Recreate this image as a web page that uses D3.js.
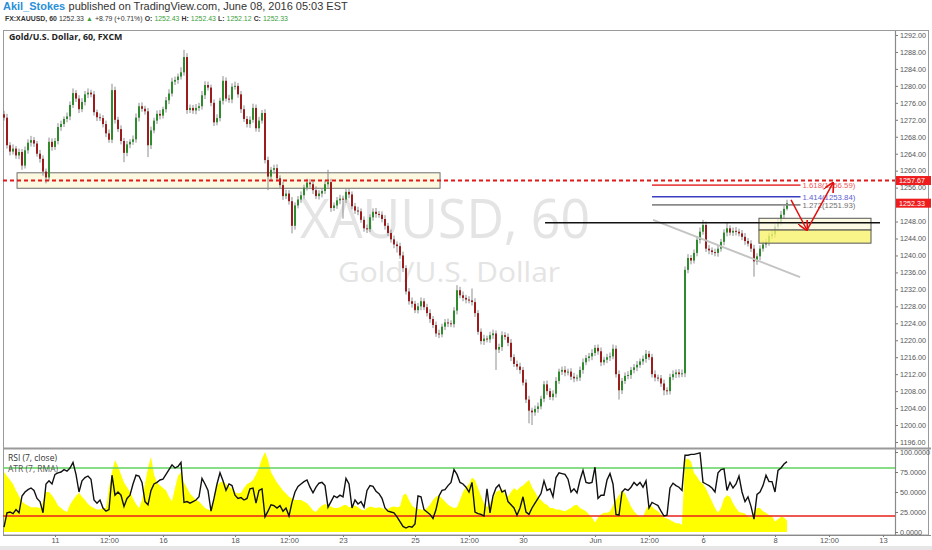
<!DOCTYPE html>
<html><head><meta charset="utf-8">
<script src="https://cdn.jsdelivr.net/npm/d3@7"></script>
<style>body{margin:0;background:#fff;}svg{display:block;}</style>
</head><body><svg id="c" width="932" height="550"></svg>
<script>
// ---------- DATA ----------
const firstOpen = 1273.3;
const firstBarHour = 14;      // trading hours since May 9 00:00 (weekends removed)
const barStepHours = 2;
const closes = [
1272.5,1266.0,1264.5,1265.2,1263.6,1264.4,1261.2,1264.8,1266.6,1267.2,
1266.4,1264.0,1262.8,1259.8,1258.4,1266.8,1265.6,1267.0,1270.3,1271.0,
1272.2,1272.8,1275.5,1278.3,1277.0,1274.5,1276.2,1278.0,1278.4,1278.0,
1273.8,1272.6,1272.4,1271.0,1268.8,1267.3,1279.0,1272.0,1269.8,1267.0,
1264.2,1266.2,1266.8,1267.4,1272.5,1275.2,1274.6,1274.0,1266.0,1269.5,
1271.8,1273.4,1273.0,1274.5,1276.6,1278.2,1281.0,1281.4,1282.2,1283.2,
1286.8,1274.3,1274.8,1274.2,1274.8,1275.2,1277.8,1280.2,1279.6,1276.0,
1271.4,1272.4,1276.5,1281.2,1277.0,1276.8,1279.8,1280.0,1278.0,1274.5,
1272.2,1271.0,1272.0,1274.8,1270.0,1271.8,1273.6,1262.5,1258.6,1260.2,
1260.6,1258.2,1256.6,1254.0,1254.6,1252.8,1247.0,1251.8,1253.2,1254.2,
1256.0,1257.2,1256.8,1255.4,1254.0,1254.6,1255.2,1256.8,1257.3,1251.2,
1251.8,1253.0,1253.4,1253.2,1255.0,1254.4,1251.6,1250.6,1250.4,1248.4,
1246.4,1246.2,1249.0,1250.3,1249.8,1249.6,1248.6,1247.0,1245.3,1243.8,
1242.6,1242.2,1240.0,1237.0,1231.5,1229.2,1228.6,1227.1,1228.0,1229.2,
1227.8,1226.4,1225.0,1223.6,1221.6,1221.4,1223.2,1224.2,1224.0,1223.8,
1227.0,1231.8,1230.6,1230.0,1229.6,1229.4,1229.0,1226.4,1222.0,1219.8,
1220.4,1220.2,1221.2,1221.6,1217.8,1218.4,1221.2,1220.8,1219.4,1216.0,
1214.4,1213.8,1213.0,1210.0,1206.0,1203.4,1203.0,1203.8,1204.4,1206.2,
1209.6,1208.0,1206.6,1207.4,1210.4,1212.6,1213.0,1212.4,1212.6,1211.4,
1211.0,1211.2,1213.0,1214.8,1215.8,1216.2,1217.0,1218.2,1217.4,1214.8,
1215.4,1216.0,1216.2,1218.0,1212.0,1208.2,1210.4,1211.6,1211.8,1213.0,
1213.6,1214.2,1215.0,1215.6,1216.8,1216.0,1212.0,1211.2,1211.0,1209.8,
1208.2,1208.0,1211.3,1212.0,1212.4,1212.0,1212.2,1236.6,1239.4,1238.8,
1240.6,1243.7,1245.6,1247.2,1241.6,1241.2,1240.8,1240.6,1241.6,1243.2,
1245.4,1246.4,1245.4,1245.8,1245.6,1245.2,1244.4,1243.4,1242.8,1241.6,
1238.6,1239.8,1241.6,1242.6,1243.2,1244.6,1245.0,1246.8,1247.8,1249.6,
1251.0,1252.33];
const wickUp = [
0.8,0.9,0.7,1.0,0.6,0.8,0.7,0.9,0.8,1.0, 0.7,0.6,0.9,0.8,0.7,1.0,0.8,0.7,0.9,0.8,
0.6,0.9,0.8,1.1,0.7,0.8,0.9,0.8,1.0,0.7, 0.8,0.6,0.9,0.7,0.8,0.9,1.5,0.8,0.7,0.9,
0.7,0.8,0.6,0.9,1.0,0.8,0.9,0.7,0.8,0.9, 0.7,0.8,0.9,0.6,0.8,1.0,0.9,0.8,0.7,1.2,
1.7,0.9,0.8,0.7,0.9,0.8,1.0,0.9,0.8,0.7, 0.8,0.9,0.7,1.1,0.8,0.9,0.8,1.0,0.7,0.8,
0.9,0.7,0.8,1.0,0.8,0.9,0.7,0.9,0.8,0.7, 0.8,0.9,0.7,0.8,0.9,0.8,1.0,0.7,0.8,0.9,
0.7,0.9,0.8,0.7,0.9,0.8,0.7,0.9,2.9,0.8, 0.7,0.8,0.9,0.7,0.8,0.9,0.7,0.8,0.9,0.7,
0.8,0.9,0.7,0.8,0.9,0.7,0.8,0.9,0.7,0.8, 0.9,0.7,0.8,0.9,0.7,0.8,0.9,0.7,0.8,0.9,
0.7,0.8,0.9,0.7,0.8,0.9,0.7,0.8,0.9,0.7, 0.8,1.2,0.8,0.9,0.7,0.8,2.8,0.9,0.7,0.8,
0.9,0.7,0.8,0.9,0.7,0.8,0.9,0.7,0.8,0.9, 0.7,0.8,0.9,0.7,0.8,0.9,0.7,0.8,0.9,0.7,
0.8,0.9,0.7,0.8,0.9,0.7,0.8,0.9,0.7,0.8, 0.9,0.7,0.8,0.9,0.7,0.8,0.9,0.7,0.8,0.9,
0.7,0.8,0.9,1.0,0.8,0.9,0.7,0.8,0.9,0.7, 0.8,0.9,0.7,0.8,0.9,0.7,0.8,0.9,0.7,0.8,
0.9,0.7,0.8,0.9,0.7,0.8,0.9,0.8,0.9,0.7, 0.8,0.9,1.0,1.2,0.8,0.9,0.7,0.8,0.9,0.7,
0.8,1.3,0.7,0.8,0.9,0.7,0.8,0.9,0.7,0.8, 0.9,0.7,0.8,0.9,0.7,0.8,0.9,0.7,0.8,0.9,
0.7,0.8];
const wickDn = [
0.7,0.8,0.9,0.7,0.8,0.9,1.0,0.7,0.8,0.9, 0.8,0.7,0.9,1.0,1.4,0.8,0.9,0.7,0.8,0.9,
0.7,0.8,0.9,0.7,0.8,0.9,0.7,0.8,0.9,0.7, 0.8,0.9,0.7,0.8,0.9,0.7,0.8,0.9,0.7,0.8,
2.2,0.8,0.9,0.7,0.8,0.9,0.7,0.8,2.8,0.9, 0.7,0.8,0.9,0.7,0.8,0.9,0.7,0.8,0.9,0.7,
0.8,0.9,0.7,0.8,0.9,0.7,0.8,0.9,0.7,0.8, 0.9,0.7,0.8,0.9,0.7,0.8,0.9,0.7,0.8,0.9,
0.7,0.8,0.9,0.7,0.8,0.9,0.7,0.8,3.2,0.8, 0.9,0.7,0.8,0.9,0.7,0.8,1.8,0.9,0.7,0.8,
0.9,0.7,0.8,0.9,0.7,0.8,0.9,0.7,0.8,0.9, 0.7,0.8,0.9,4.5,0.8,0.9,0.7,0.8,0.9,0.7,
0.8,0.9,0.7,0.8,0.9,0.7,0.8,0.9,0.7,0.8, 0.9,1.5,0.8,0.9,0.7,0.8,0.9,0.7,0.8,0.9,
0.7,0.8,0.9,0.7,0.8,0.9,0.7,0.8,0.9,0.7, 0.8,0.9,0.7,0.8,0.9,0.7,0.8,0.9,0.7,0.8,
0.9,0.7,0.8,0.9,4.8,0.8,0.9,0.7,0.8,0.9, 0.7,0.8,0.9,0.7,0.8,3.0,3.0,0.8,0.9,0.7,
0.8,0.9,0.7,0.8,0.9,0.7,0.8,0.9,0.7,0.8, 0.9,0.7,0.8,0.9,0.7,0.8,0.9,0.7,0.8,0.9,
0.7,0.8,0.9,0.7,0.8,2.2,0.9,0.7,0.8,0.9, 0.8,0.9,0.7,0.8,0.9,0.7,0.8,0.9,0.7,0.8,
1.2,0.9,0.8,0.7,0.9,0.8,0.7,0.9,0.8,0.9, 0.7,0.8,0.9,0.7,0.8,0.9,0.7,0.8,0.9,0.7,
0.8,0.9,0.7,0.8,0.9,0.7,0.8,0.9,0.7,0.8, 3.6,0.8,0.9,0.7,0.8,0.9,0.7,0.8,0.9,0.7,
0.8,0.4];
const rsi = [
6,24,25,23,28,24,45,50,53,55, 52,42,38,24,60,64,60,72,74,75,
78,76,80,87,72,50,64,68,70,66, 40,36,40,30,26,28,71,46,50,46,
32,42,46,60,71,70,62,38,34,52, 60,62,65,66,72,78,84,80,82,87,
37,38,36,38,40,44,67,60,52,26, 42,60,74,64,52,60,58,46,42,43,
40,42,54,55,36,52,54,19,26,34, 33,30,33,26,30,20,37,50,57,60,
63,65,56,49,56,61,62,58,31,38, 45,43,46,44,67,60,30,40,35,38,
31,52,58,57,51,48,42,30,26,25, 24,19,13,7,5,7,6,10,45,44,
28,25,22,17,28,45,52,53,58,62, 78,72,62,60,56,50,62,25,23,22,
20,54,24,45,55,59,50,52,38,34, 30,21,30,44,25,22,30,36,42,48,
64,52,54,44,68,74,73,72,66,50, 54,49,65,77,62,61,62,81,42,46,
46,65,73,60,22,21,50,54,52,56, 62,58,62,56,64,30,37,35,33,26,
20,21,55,61,58,56,52,96,96,97, 97,98,99,62,60,58,55,50,74,78,
79,52,62,55,60,70,50,38,44,32, 16,47,50,58,71,63,63,50,77,80,
85,88];
const atr = [
75,70,65,60,52,45,38,35,33,31, 31,31,30,38,50,50,46,40,33,30,
27,25,34,40,45,49,44,40,35,32, 30,28,28,30,30,55,75,90,82,72,
62,56,50,42,35,30,40,60,80,94, 72,62,58,55,52,44,38,55,70,75,
62,55,48,44,40,38,34,30,28,27, 40,58,62,63,60,57,54,50,48,49,
55,60,62,65,72,80,92,100,90,75, 68,62,57,52,48,44,42,40,40,40,
38,36,32,27,25,30,33,35,33,32, 30,30,31,33,34,31,32,33,31,28,
27,30,32,31,30,31,30,28,29,31, 32,31,32,46,48,40,33,30,29,28,
27,30,34,40,44,46,42,38,34,32, 30,31,40,50,56,60,68,65,55,45,
36,31,36,42,50,52,54,47,44,50, 55,52,56,58,62,65,56,50,43,40,
36,34,30,30,28,28,27,26,28,30, 33,34,30,28,26,22,18,12,18,22,
24,24,26,33,40,46,52,48,40,32, 26,22,19,19,28,34,32,28,26,22,
18,17,15,13,11,11,9,90,92,88, 74,69,63,60,54,46,38,30,24,30,
42,46,44,36,30,25,24,23,19,18, 25,30,30,26,24,21,20,13,16,19,
18,14];
const priceTicks = [1196,1200,1204,1208,1212,1216,1220,1224,1228,1232,1236,1240,1244,1248,1252,1256,1260,1264,1268,1272,1276,1280,1284,1288,1292];
const rsiTicks = [0,25,50,75,100];
const rsiBands = [80,20];
const timeLabels = ["11","12:00","16","18","12:00","23","25","12:00","30","Jun","12:00","6","8","12:00","13"];
const timeHours  = [48,84,120,168,204,240,288,324,360,408,444,480,528,564,600];
const supportZone = {h0:22.7,h1:304.7,top:1259.5,bottom:1255.85};
const buyZone = {h0:517.3,h1:592,top:1248.77,mid:1246.0,bottom:1242.9};
const dashedLevel = 1257.67;
const lastPrice = 1252.33;
const resistance = {h0:374.7,h1:598,price:1247.7};
const trendline = [[446.7,1248.4],[544.7,1234.9]];
const fibRange = [446,545];
const fibRatios = ["1.618","1.414","1.272"];
const fibPrices = [1256.59,1253.84,1251.93];
const arrowPath = [[538.7,1253.1],[549.3,1246.0],[566.7,1257.1]];
// header pieces: [text, weight, colourKey]
const headerLine1 = [["Akil_Stokes",600,"b"],["published on TradingView.com, June 08, 2016 05:03 EST",400,"t"]];
const headerLine2 = [["FX:XAUUSD, 60",700,"t"],["1252.33",400,"t"],["▲",400,"g"],["+8.79 (+0.71%)",400,"t"],
  ["O:",700,"t"],["1252.43",400,"g"],["H:",700,"t"],["1252.43",400,"g"],["L:",700,"t"],["1252.12",400,"g"],["C:",700,"t"],["1252.33",400,"g"]];

// ---------- LAYOUT ----------
const L=3, R=895, PT=31, PB=448, RT=450, RB=535;
const svg = d3.select("#c");
const x = d3.scaleLinear().domain([0,600]).range([-17,883]);
const y = d3.scaleLinear().domain([1196,1292]).range([442,35]);
const yr = d3.scaleLinear().domain([0,100]).range([532,452]);
const ya = d3.scaleLinear().domain([0,100]).range([532,452]);
const AX = "Liberation Sans, Arial, sans-serif";
const HD = "'Open Sans', 'Noto Sans', sans-serif";
const COL = {b:"#2a8fd8", t:"#333", g:"#3aa03a"};

const defs = svg.append("defs");
defs.append("clipPath").attr("id","cp").append("rect").attr("x",L).attr("y",PT).attr("width",R-L).attr("height",PB-PT);
defs.append("clipPath").attr("id","cr").append("rect").attr("x",L).attr("y",RT).attr("width",R-L).attr("height",RB-RT);
defs.append("marker").attr("id","ah").attr("viewBox","0 0 10 10").attr("refX",9).attr("refY",5)
  .attr("markerWidth",7).attr("markerHeight",7).attr("orient","auto-start-reverse")
  .append("path").attr("d","M0,0 L10,5 L0,10").attr("fill","none").attr("stroke","#e01010").attr("stroke-width",1.6);

// header rows, scaled so they span the same width as in the picture
function fitRow(pieces, x0, yb, target, fam){
  const base = 10;
  const nodes = pieces.map(([t,w,c])=>svg.append("text").attr("y",yb).attr("font-family",fam)
    .attr("font-size",base).attr("font-weight",w).attr("fill",COL[c]).text(t));
  const ws = nodes.map(n=>n.node().getComputedTextLength());
  const gap = 0.3*base;
  const total = d3.sum(ws) + gap*(pieces.length-1);
  const k = target/total;
  let cx = x0;
  nodes.forEach((n,i)=>{ n.attr("font-size",base*k).attr("x",cx); cx += (ws[i]+gap)*k; });
}
fitRow(headerLine1, 3, 10, 345, AX);
fitRow(headerLine2, 5, 21, 283, AX);

// frame
svg.append("rect").attr("x",L+0.5).attr("y",PT-0.5).attr("width",928-L).attr("height",RB-PT+0.5)
  .attr("fill","#fff").attr("stroke","#9a9a9a");
svg.append("rect").attr("x",0).attr("y",546).attr("width",932).attr("height",4).attr("fill","#e6e6e6");

// watermark
svg.append("text").attr("x",300).attr("y",238).attr("font-family",HD)
  .attr("font-size",54).attr("fill","#e4e4e4").attr("textLength",290).attr("lengthAdjust","spacingAndGlyphs").text("XAUUSD, 60");
svg.append("text").attr("x",338).attr("y",282).attr("font-family",HD)
  .attr("font-size",28).attr("fill","#e4e4e4").attr("textLength",222).attr("lengthAdjust","spacingAndGlyphs").text("Gold/U.S. Dollar");

// title
svg.append("text").attr("x",9).attr("y",40).attr("font-family",HD).attr("font-size",8.8)
  .attr("font-weight","bold").attr("fill","#222").text("Gold/U.S. Dollar, 60, FXCM");

const gp = svg.append("g").attr("clip-path","url(#cp)");
// support zone (under candles)
gp.append("rect").attr("x",x(supportZone.h0)).attr("y",y(supportZone.top))
  .attr("width",x(supportZone.h1)-x(supportZone.h0)).attr("height",y(supportZone.bottom)-y(supportZone.top))
  .attr("fill","#fdf8e0").attr("stroke","#6f6f6f").attr("stroke-width",1);

// candles
const bars = closes.map((c,i)=>{
  const o = i ? closes[i-1] : firstOpen;
  return {h:firstBarHour+i*barStepHours, o, c, hi:Math.max(o,c)+wickUp[i], lo:Math.min(o,c)-wickDn[i]};
});
gp.selectAll("line.w").data(bars).join("line").attr("class","w")
  .attr("x1",d=>x(d.h)).attr("x2",d=>x(d.h)).attr("y1",d=>y(d.hi)).attr("y2",d=>y(d.lo))
  .attr("stroke","#8d8d8d").attr("stroke-width",1);
gp.selectAll("rect.b").data(bars).join("rect").attr("class","b")
  .attr("x",d=>x(d.h)-1).attr("width",2)
  .attr("y",d=>y(Math.max(d.o,d.c))).attr("height",d=>Math.max(1,Math.abs(y(d.o)-y(d.c))))
  .attr("fill",d=>d.c>=d.o?"#2e8b2e":"#9b1c1c");

// buy zone (over candles, semi transparent)
gp.append("rect").attr("x",x(buyZone.h0)).attr("y",y(buyZone.top))
  .attr("width",x(buyZone.h1)-x(buyZone.h0)).attr("height",y(buyZone.mid)-y(buyZone.top))
  .attr("fill","#fbf8d8").attr("fill-opacity",0.75).attr("stroke","#555");
gp.append("rect").attr("x",x(buyZone.h0)).attr("y",y(buyZone.mid))
  .attr("width",x(buyZone.h1)-x(buyZone.h0)).attr("height",y(buyZone.bottom)-y(buyZone.mid))
  .attr("fill","#f7f26a").attr("fill-opacity",0.8).attr("stroke","#555");

// trendline
gp.append("line").attr("x1",x(trendline[0][0])).attr("y1",y(trendline[0][1]))
  .attr("x2",x(trendline[1][0])).attr("y2",y(trendline[1][1])).attr("stroke","#c4c4c4").attr("stroke-width",2);
// resistance line
gp.append("line").attr("x1",x(resistance.h0)).attr("x2",x(resistance.h1))
  .attr("y1",y(resistance.price)).attr("y2",y(resistance.price)).attr("stroke","#111").attr("stroke-width",1.5);
// fib lines
const fibCol = ["#e84a4a","#3a3fbf","#8a8a8a"], fibTxt=["#ef5a5a","#6060d0","#707070"];
fibPrices.forEach((p,i)=>{
  gp.append("line").attr("x1",x(fibRange[0])).attr("x2",x(fibRange[1])).attr("y1",y(p)).attr("y2",y(p))
    .attr("stroke",fibCol[i]).attr("stroke-width",1.6);
  gp.append("text").attr("x",x(fibRange[1])+2).attr("y",y(p)+2.8).attr("font-family",AX).attr("font-size",7.8)
    .attr("fill",fibTxt[i]).text(fibRatios[i]+"("+p.toFixed(2)+")");
});
// dashed level
gp.append("line").attr("x1",L).attr("x2",R).attr("y1",y(dashedLevel)).attr("y2",y(dashedLevel))
  .attr("stroke","#e01a1a").attr("stroke-width",2).attr("stroke-dasharray","4,3");
// arrows
for(let i=0;i<arrowPath.length-1;i++){
  gp.append("line").attr("x1",x(arrowPath[i][0])).attr("y1",y(arrowPath[i][1]))
    .attr("x2",x(arrowPath[i+1][0])).attr("y2",y(arrowPath[i+1][1]))
    .attr("stroke","#e01010").attr("stroke-width",1.5).attr("marker-end","url(#ah)");
}

// price axis
const pa = svg.append("g").attr("transform",`translate(${R},0)`)
  .call(d3.axisRight(y).tickValues(priceTicks).tickFormat(d3.format(".2f")).tickSize(3).tickPadding(2));
pa.select(".domain").remove();
pa.selectAll("line").attr("stroke","#777");
pa.selectAll("text").attr("font-family",AX).attr("font-size",7.2).attr("fill","#555");
svg.append("line").attr("x1",R+0.5).attr("x2",R+0.5).attr("y1",PT).attr("y2",RB).attr("stroke","#8a8a8a").attr("stroke-width",1.2);

// price labels
[dashedLevel,lastPrice].forEach(p=>{
  svg.append("rect").attr("x",R+1).attr("y",y(p)-4.5).attr("width",35).attr("height",9).attr("fill","#ee1c1c");
  svg.append("text").attr("x",R+4).attr("y",y(p)+2.6).attr("font-family",AX).attr("font-size",7.2)
    .attr("fill","#fff").text(p.toFixed(2));
});

// RSI panel separator
svg.append("line").attr("x1",L).attr("x2",931).attr("y1",PB+0.5).attr("y2",PB+0.5).attr("stroke","#9a9a9a").attr("stroke-width",2);
const gr = svg.append("g").attr("clip-path","url(#cr)");
const bh = (i)=>firstBarHour+i*barStepHours;
gr.append("path").datum(atr).attr("fill","#ffff00")
  .attr("d",d3.area().x((d,i)=>x(bh(i))).y0(ya(0)).y1(d=>ya(d)));
rsiBands.forEach((b,i)=>{
  gr.append("line").attr("x1",L).attr("x2",R).attr("y1",yr(b)).attr("y2",yr(b))
    .attr("stroke",i?"#e8201a":"#5fd35f").attr("stroke-width",1.5);
});
gr.append("path").datum(rsi).attr("fill","none").attr("stroke","#111").attr("stroke-width",1.4)
  .attr("d",d3.line().x((d,i)=>x(bh(i))).y(d=>yr(d)));
svg.append("text").attr("x",8).attr("y",461).attr("font-family",HD).attr("font-size",8.5).attr("fill","#333").text("RSI (7, close)");
svg.append("text").attr("x",8).attr("y",472).attr("font-family",HD).attr("font-size",8.5).attr("fill","#555").text("ATR (7, RMA)");
const ra = svg.append("g").attr("transform",`translate(${R},0)`)
  .call(d3.axisRight(yr).tickValues(rsiTicks).tickFormat(d3.format(".4f")).tickSize(3).tickPadding(2));
ra.select(".domain").remove();
ra.selectAll("line").attr("stroke","#777");
ra.selectAll("text").attr("font-family",AX).attr("font-size",7.2).attr("fill","#555");

// time axis
svg.append("line").attr("x1",L).attr("x2",931).attr("y1",RB+0.5).attr("y2",RB+0.5).attr("stroke","#8a8a8a");
const ta = svg.append("g").attr("transform",`translate(0,${RB})`)
  .call(d3.axisBottom(x).tickValues(timeHours).tickFormat((d,i)=>timeLabels[i]).tickSize(2).tickPadding(1));
ta.select(".domain").remove();
ta.selectAll("line").attr("stroke","#777");
ta.selectAll("text").attr("font-family",AX).attr("font-size",7.6).attr("fill","#555");
</script></body></html>
